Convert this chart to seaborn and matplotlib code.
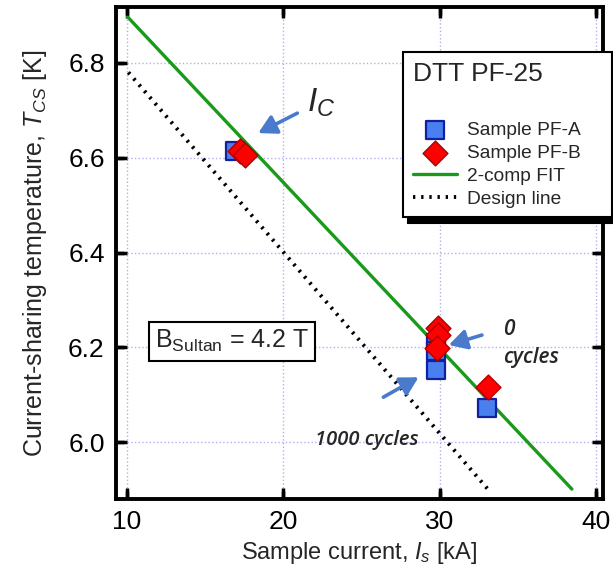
import numpy as np
import pandas as pd
import matplotlib
matplotlib.use("Agg")
import matplotlib.pyplot as plt
import seaborn as sns

# data
current_a = [16.9, 29.75, 29.75, 29.75, 33.0]
tcs_a = [6.615, 6.21, 6.192, 6.152, 6.072]
current_b = [17.25, 17.55, 29.9, 29.9, 29.8, 33.1]
tcs_b = [6.615, 6.605, 6.24, 6.226, 6.198, 6.116]

fit_current = [10.05, 38.45]
fit_tcs = [6.897, 5.901]
design_current = [10.1, 33.1]
design_tcs = [6.78, 5.90]

sns.set_theme(style="ticks")
plt.rcParams['font.family'] = ['Liberation Sans', 'DejaVu Sans']
plt.rcParams['mathtext.fontset'] = 'custom'
plt.rcParams['mathtext.rm'] = 'Liberation Sans'
plt.rcParams['mathtext.it'] = 'Liberation Sans:italic'
plt.rcParams.update({
    "xtick.direction": "in", "ytick.direction": "in",
    "xtick.top": True, "xtick.bottom": True,
    "ytick.left": True, "ytick.right": True,
    "xtick.major.size": 8, "ytick.major.size": 8,
    "xtick.major.width": 2.5, "ytick.major.width": 2.5,
    "xtick.color": "black", "ytick.color": "black",
    "xtick.major.pad": 8, "ytick.major.pad": 8,
    "xtick.labelsize": 19, "ytick.labelsize": 19,
})

fig = plt.figure(figsize=(6.13, 5.79), dpi=100)
ax = fig.add_axes([0.189, 0.138, 0.795, 0.850])

sns.lineplot(x=fit_current, y=fit_tcs, ax=ax, color="#1a9a1a", lw=2.4,
             label="2-comp FIT", zorder=2)
sns.lineplot(x=design_current, y=design_tcs, ax=ax, color="black", lw=2.8,
             linestyle=(0, (0.6, 1.5)), label="Design line", zorder=2)
sns.scatterplot(x=current_a, y=tcs_a, ax=ax, marker="s", s=160,
                color="#4a7ff0", edgecolor="#1020a0", linewidth=1.6,
                label="Sample PF-A", zorder=3)
sns.scatterplot(x=current_b, y=tcs_b, ax=ax, marker="D", s=160,
                color="#ff0000", edgecolor="#b00000", linewidth=1.0,
                label="Sample PF-B", zorder=4)

ax.set_xlim(9.3, 40.45)
ax.set_ylim(5.88, 6.918)
ax.set_xticks([10, 20, 30, 40])
ax.set_yticks([6.0, 6.2, 6.4, 6.6, 6.8])
ax.set_yticklabels(["6.0", "6.2", "6.4", "6.6", "6.8"])
for sp in ax.spines.values():
    sp.set_linewidth(2.8)
    sp.set_color("black")

# dotted lavender grid drawn as separate lines
for xv in ax.get_xticks():
    ax.axvline(xv, color="#b0b0f0", ls=":", lw=1.0, zorder=0.5)
for yv in ax.get_yticks():
    ax.axhline(yv, color="#b0b0f0", ls=":", lw=1.0, zorder=0.5)
ax.grid(False)
ax.tick_params(which="major", direction="in", length=8, width=2.5,
               colors="black", top=True, right=True, bottom=True, left=True)
ax.tick_params(labelsize=19, pad=8)

# inward tick marks on all four sides, also drawn as plain lines
bb = ax.get_window_extent()
fx = 8 / bb.height
fy = 8 / bb.width
for xv in ax.get_xticks():
    ax.axvline(xv, ymin=0, ymax=fx, color="black", lw=2.5, zorder=6,
               solid_capstyle="butt")
    ax.axvline(xv, ymin=1 - fx, ymax=1, color="black", lw=2.5, zorder=6,
               solid_capstyle="butt")
for yv in ax.get_yticks():
    ax.axhline(yv, xmin=0, xmax=fy, color="black", lw=2.5, zorder=6,
               solid_capstyle="butt")
    ax.axhline(yv, xmin=1 - fy, xmax=1, color="black", lw=2.5, zorder=6,
               solid_capstyle="butt")

ax.set_xlabel("Sample current, $I_s$ [kA]", fontsize=17, labelpad=4)
ax.set_ylabel("Current-sharing temperature, $T_{CS}$ [K]", fontsize=18,
              labelpad=14)

handles, labels = ax.get_legend_handles_labels()
order = [2, 3, 0, 1]
leg = ax.legend([handles[i] for i in order],
                [labels[i] + "    " for i in order],
                title="DTT PF-25\n", loc="upper right",
                bbox_to_anchor=(1.018, 0.908), fontsize=13.8, title_fontsize=19,
                frameon=True, fancybox=False,
                shadow={"color": "black", "alpha": 1, "ox": 4, "oy": -4},
                borderpad=0.5, handlelength=2.3, labelspacing=0.28,
                handletextpad=0.55, borderaxespad=0)
leg.get_frame().set_edgecolor("black")
leg.get_frame().set_linewidth(1.5)
leg._legend_box.align = "left"
leg._legend_box.sep = 6
leg.set_zorder(8)

ax.text(11.8, 6.213, "B$_{\\mathrm{Sultan}}$ = 4.2 T", fontsize=18,
        va="center",
        bbox=dict(boxstyle="square,pad=0.25", fc="white", ec="black", lw=1.5),
        zorder=5)

arrow_kw = dict(arrowstyle="-|>,head_length=0.9,head_width=0.5",
                color="#4a7acc", lw=2.6, shrinkA=0, shrinkB=0)
ax.annotate("", xy=(18.4, 6.652), xytext=(20.9, 6.694), arrowprops=arrow_kw)
ax.text(21.5, 6.697, "$I_C$", fontsize=24)
ax.annotate("", xy=(30.58, 6.205), xytext=(32.7, 6.226), arrowprops=arrow_kw)
cyc_font = dict(style="italic", family=["Open Sans", "DejaVu Sans"],
                fontweight="semibold")
ax.text(34.04, 6.226, "0", fontsize=15, **cyc_font)
ax.text(34.04, 6.167, "cycles", fontsize=15, **cyc_font)
ax.annotate("", xy=(28.65, 6.137), xytext=(26.4, 6.095), arrowprops=arrow_kw)
ax.text(22.05, 5.994, "1000 cycles", fontsize=14.5, **cyc_font)

fig.canvas.draw()
fig.savefig("out.png", dpi=100)
